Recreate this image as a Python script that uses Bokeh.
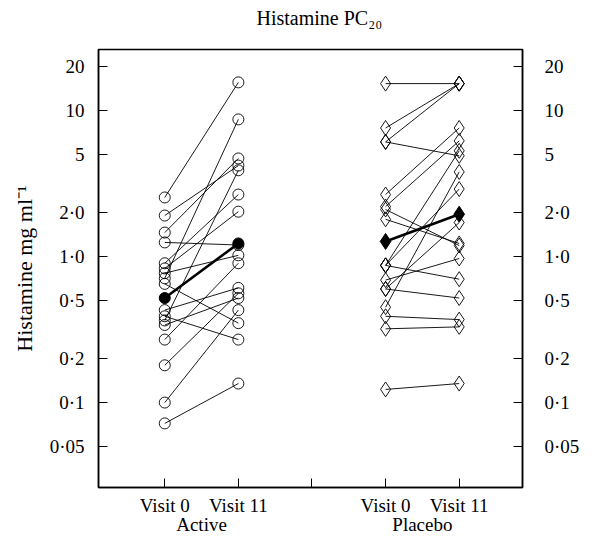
from bokeh.plotting import figure
from bokeh.models import FixedTicker, LogAxis, LinearAxis, Range1d
from bokeh.embed import file_html
from bokeh.resources import INLINE

# ---- data ----
visit_positions = [1, 2, 4, 5]          # Active V0, Active V11, Placebo V0, Placebo V11
x_ticks = [1, 2, 3, 4, 5]
x_tick_labels = ["Visit 0", "Visit 11", "", "Visit 0", "Visit 11"]
groups = ["Active", "Placebo"]
title_text = "Histamine PC₂₀"

active_v0 = [2.54, 1.91, 1.46, 1.25, 0.90, 0.83, 0.77, 0.71, 0.65,
             0.43, 0.39, 0.365, 0.34, 0.27, 0.18, 0.10, 0.072]
active_v11 = [15.6, 4.2, 4.7, 1.2, 2.66, 2.03, 1.02, 8.7, 0.35,
              0.61, 0.27, 3.9, 0.52, 0.90, 0.56, 0.43, 0.135]
active_mean = [0.52, 1.23]

placebo_v0 = [15.3, 7.6, 6.1, 6.1, 2.66, 2.2, 2.1, 1.8, 0.87, 0.87, 0.87,
              0.69, 0.60, 0.60, 0.45, 0.39, 0.32, 0.123]
placebo_v11 = [15.3, 15.3, 15.3, 4.9, 7.6, 6.2, 1.19, 1.23, 5.3, 2.9, 0.70,
               0.97, 1.71, 0.52, 3.8, 0.37, 0.33, 0.135]
placebo_mean = [1.27, 1.95]

y_ticks = [0.05, 0.1, 0.2, 0.5, 1.0, 2.0, 5, 10, 20]
y_tick_labels = ["0·05", "0·1", "0·2", "0·5", "1·0", "2·0", "5", "10", "20"]

FONT = "Liberation Serif"
FS = "19px"

p = figure(width=586, height=538, frame_width=424, frame_height=438,
           min_border_left=98, min_border_right=64, min_border_top=49, min_border_bottom=51,
           y_axis_type="log", x_range=Range1d(0.1, 5.86), y_range=Range1d(0.0262, 26.2),
           output_backend="svg", toolbar_location=None)
p.xgrid.visible = False
p.ygrid.visible = False
p.outline_line_color = "black"
p.outline_line_width = 1.5
p.background_fill_color = "white"
p.border_fill_color = "white"


def draw_group(x0, x1, v0, v11, marker, size, mean, mean_marker, mean_size):
    n = len(v0)
    p.segment(x0=[x0] * n, y0=v0, x1=[x1] * n, y1=v11, line_color="black", line_width=0.9)
    p.scatter(x=[x0] * n, y=v0, marker=marker, size=size, fill_color=None,
              line_color="black", line_width=0.9)
    p.scatter(x=[x1] * n, y=v11, marker=marker, size=size, fill_color=None,
              line_color="black", line_width=0.9)
    p.line(x=[x0, x1], y=mean, line_color="black", line_width=2.6)
    p.scatter(x=[x0, x1], y=mean, marker=mean_marker, size=mean_size,
              fill_color="black", line_color="black")


draw_group(visit_positions[0], visit_positions[1], active_v0, active_v11,
           "circle", 11, active_mean, "circle", 11)
draw_group(visit_positions[2], visit_positions[3], placebo_v0, placebo_v11,
           "diamond", 15, placebo_mean, "diamond", 16)

# y axes
overrides = {t: l for t, l in zip(y_ticks, y_tick_labels)}


def style_y(ax, standoff):
    ax.ticker = FixedTicker(ticks=y_ticks)
    ax.major_label_overrides = overrides
    ax.major_tick_in = 9
    ax.major_tick_out = 0
    ax.minor_tick_line_color = None
    ax.axis_line_width = 1.5
    ax.major_tick_line_width = 1
    ax.major_label_text_font = FONT
    ax.major_label_text_font_size = FS
    ax.major_label_text_color = "black"
    ax.major_label_standoff = standoff


style_y(p.yaxis[0], 14)
p.yaxis[0].axis_label = "Histamine mg ml⁻¹"
p.yaxis[0].axis_label_text_font = FONT
p.yaxis[0].axis_label_text_font_size = "22px"
p.yaxis[0].axis_label_text_font_style = "normal"
p.yaxis[0].axis_label_text_color = "black"
p.yaxis[0].axis_label_standoff = 10

right = LogAxis()
style_y(right, 22)
p.add_layout(right, "right")

# x axis (visits)
xa = p.xaxis[0]
xa.ticker = FixedTicker(ticks=x_ticks)
xa.major_label_overrides = {t: l for t, l in zip(x_ticks, x_tick_labels)}
xa.major_tick_in = 9
xa.major_tick_out = 0
xa.minor_tick_line_color = None
xa.axis_line_width = 1.5
xa.major_label_text_font = FONT
xa.major_label_text_font_size = FS
xa.major_label_text_color = "black"
xa.major_label_standoff = 7

# group axis (Active / Placebo)
group_pos = [(visit_positions[0] + visit_positions[1]) / 2,
             (visit_positions[2] + visit_positions[3]) / 2]
ga = LinearAxis(ticker=FixedTicker(ticks=group_pos),
                major_label_overrides={t: g for t, g in zip(group_pos, groups)})
ga.axis_line_color = None
ga.major_tick_line_color = None
ga.minor_tick_line_color = None
ga.major_tick_in = 0
ga.major_tick_out = 0
ga.major_label_standoff = -5
ga.major_label_text_font = FONT
ga.major_label_text_font_size = FS
ga.major_label_text_color = "black"
p.add_layout(ga, "below")

# title, drawn as the single label of a top axis (centre of the middle gap)
title_pos = 3.1
ta = LinearAxis(ticker=FixedTicker(ticks=[title_pos]),
                major_label_overrides={title_pos: title_text})
ta.axis_line_color = None
ta.major_tick_line_color = None
ta.minor_tick_line_color = None
ta.major_tick_in = 0
ta.major_tick_out = 0
ta.major_label_standoff = 21
ta.major_label_text_font = FONT
ta.major_label_text_font_size = "20px"
ta.major_label_text_color = "black"
p.add_layout(ta, "above")

open("out.html", "w").write(file_html(p, INLINE))
